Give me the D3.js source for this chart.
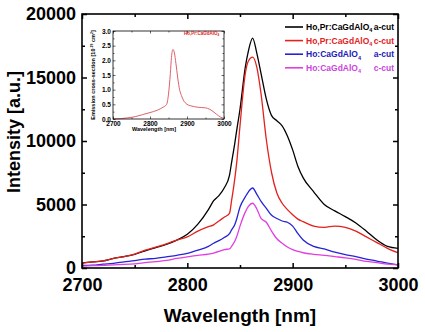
<!DOCTYPE html>
<html>
<head>
<meta charset="utf-8">
<script src="https://cdn.jsdelivr.net/npm/d3@7"></script>
<style>
  body { margin: 0; background: #fff; }
  svg { display: block; font-family: "Liberation Sans", Arial, sans-serif; font-weight: bold; }
</style>
</head>
<body>
<div id="chart"></div>
<script>
"use strict";

// wavelength grid shared by the four spectra (nm)
const wavelengths = [2700, 2710, 2720, 2730, 2740, 2750, 2760, 2770, 2780, 2790, 2800, 2810, 2820, 2825,
    2830, 2835, 2840, 2842, 2845, 2847, 2850, 2855, 2858, 2862, 2866, 2870, 2875, 2880, 2885, 2890, 2895, 2900,
    2905, 2910, 2920, 2930, 2940, 2950, 2960, 2970, 2980, 2990, 3000];

// intensities [a.u.]
const hoPrACut = [400, 480, 560, 760, 900, 1080, 1350, 1600, 1850, 2200, 2650, 3450, 4600, 5300,
    5700, 6300, 7300, 8300, 9800, 10900, 12500, 15800, 17100, 18100, 16900, 15300, 13300, 12000, 11600, 11200, 10400, 9300,
    8000, 7100, 6000, 5000, 4500, 4050, 3550, 2900, 2200, 1700, 1550];
const hoPrCCut = [380, 480, 560, 760, 900, 1100, 1400, 1650, 1900, 2200, 2450, 2900, 3250, 3400,
    3700, 4000, 4300, 5300, 7000, 8400, 11200, 15300, 16300, 16600, 15800, 13700, 10100, 7500, 5900, 5100, 4600, 4200,
    3850, 3650, 3300, 3200, 3300, 3200, 2900, 2450, 2000, 1550, 1200];
const hoACut = [200, 220, 300, 370, 480, 580, 700, 760, 880, 1000, 1150, 1400, 1700, 1950,
    2150, 2400, 2700, 3000, 3400, 3900, 4800, 5600, 6000, 6300, 5800, 5250, 4700, 4150, 3900, 3700, 3600, 3300,
    2700, 2200, 1700, 1500, 1250, 1050, 900, 700, 550, 380, 250];
const hoCCut = [150, 180, 200, 250, 280, 330, 420, 500, 600, 750, 880, 1000, 1100, 1180,
    1300, 1450, 1500, 1700, 2100, 2500, 3300, 4400, 4850, 5100, 4650, 3900, 3600, 2900, 2300, 1950, 1650, 1450,
    1300, 1200, 1080, 1000, 900, 800, 680, 520, 420, 300, 250];

const seriesValues = [hoPrACut, hoPrCCut, hoACut, hoCCut];
const seriesNames = ["Ho,Pr:CaGdAlO", "Ho,Pr:CaGdAlO", "Ho:CaGdAlO", "Ho:CaGdAlO"];
const seriesCuts = ["a-cut", "c-cut", "a-cut", "c-cut"];
const lineColors = ["#000000", "#e3211d", "#2424d6", "#e03ee0"];
const textColors = ["#000000", "#e3211d", "#2020b8", "#cc44dd"];

// inset: emission cross-section of Ho,Pr:CaGdAlO4 [1e-19 cm2]
const insetWavelengths = [2700, 2720, 2740, 2760, 2780, 2800, 2820, 2835, 2845, 2850, 2855, 2858, 2862,
    2866, 2870, 2875, 2880, 2885, 2890, 2900, 2910, 2920, 2930, 2940, 2950, 2960, 2970, 2980, 2990, 3000];
const insetValues = [0.0, 0.01, 0.04, 0.08, 0.15, 0.22, 0.3, 0.4, 0.5, 0.85, 1.55, 2.1, 2.37,
    2.25, 1.9, 1.4, 1.0, 0.8, 0.65, 0.5, 0.45, 0.42, 0.4, 0.39, 0.38, 0.34, 0.26, 0.16, 0.07, 0.02];

// tick values
const xTicks = [2700, 2800, 2900, 3000],
    xMinor = [2750, 2850, 2950],
    yTicks = [0, 5000, 10000, 15000, 20000],
    yMinor = [2500, 7500, 12500, 17500],
    insetYTicks = [0, 0.5, 1.0, 1.5, 2.0, 2.5, 3.0];

const svgWidth = 425,
    svgHeight = 332;

const margin = { top: 14, right: 27, bottom: 64, left: 82 },
    width = svgWidth - margin.left - margin.right,
    height = svgHeight - margin.top - margin.bottom;

const svg = d3.select("#chart").append("svg")
    .attr("width", svgWidth)
    .attr("height", svgHeight);

const plot = svg.append("g")
    .attr("transform", `translate(${margin.left},${margin.top})`);

const x = d3.scaleLinear().domain([2700, 3000]).range([0, width]);
const y = d3.scaleLinear().domain([0, 20000]).range([height, 0]);

// inward ticks on all four sides
function drawAxes(g, xs, ys, w, h, opt) {
    g.append("g").attr("transform", `translate(0,${h})`)
        .call(d3.axisBottom(xs).tickValues(opt.xTicks).tickSize(-opt.major).tickPadding(opt.xPad).tickFormat(opt.xFormat))
        .call(a => a.selectAll("text").style("font-size", opt.font + "px"));
    g.append("g").attr("transform", `translate(0,${h})`)
        .call(d3.axisBottom(xs).tickValues(opt.xMinor).tickSize(-opt.minor).tickFormat(""));
    g.append("g")
        .call(d3.axisTop(xs).tickValues(opt.xTicks).tickSize(-opt.major).tickFormat(""));
    g.append("g")
        .call(d3.axisTop(xs).tickValues(opt.xMinor).tickSize(-opt.minor).tickFormat(""));
    g.append("g")
        .call(d3.axisLeft(ys).tickValues(opt.yTicks).tickSize(-opt.major).tickPadding(opt.yPad).tickFormat(opt.yFormat))
        .call(a => a.selectAll("text").style("font-size", opt.font + "px"));
    g.append("g")
        .call(d3.axisLeft(ys).tickValues(opt.yMinor).tickSize(-opt.minor).tickFormat(""));
    g.append("g").attr("transform", `translate(${w},0)`)
        .call(d3.axisRight(ys).tickValues(opt.yTicks).tickSize(-opt.major).tickFormat(""));
    g.append("g").attr("transform", `translate(${w},0)`)
        .call(d3.axisRight(ys).tickValues(opt.yMinor).tickSize(-opt.minor).tickFormat(""));

    g.selectAll(".domain").remove();
    g.selectAll(".tick line").attr("stroke", "#000").attr("stroke-width", opt.tickWidth);
    g.selectAll(".tick text").attr("fill", "#000").style("font-family", "inherit").style("font-weight", "bold");

    g.append("rect")
        .attr("width", w).attr("height", h)
        .attr("fill", "none").attr("stroke", "#000").attr("stroke-width", opt.frameWidth);
}

// spectra
const line = d3.line()
    .x((d, i) => x(wavelengths[i]))
    .y(d => y(d))
    .curve(d3.curveMonotoneX);

plot.append("g")
    .selectAll("path")
    .data(seriesValues)
    .enter()
    .append("path")
    .attr("d", line)
    .attr("fill", "none")
    .attr("stroke", (d, i) => lineColors[i])
    .attr("stroke-width", 1.3)
    .attr("stroke-linejoin", "round");

drawAxes(plot, x, y, width, height, {
    xTicks: xTicks, xMinor: xMinor, yTicks: yTicks, yMinor: yMinor,
    major: 5, minor: 3, xPad: 10, yPad: 6, font: 18,
    xFormat: d3.format("d"), yFormat: d3.format("d"),
    tickWidth: 1.5, frameWidth: 1.6
});

// axis titles
svg.append("text")
    .attr("x", margin.left + width / 2)
    .attr("y", 322)
    .attr("text-anchor", "middle")
    .style("font-size", "19px")
    .text("Wavelength [nm]");

svg.append("text")
    .attr("transform", "translate(20,132) rotate(-90)")
    .attr("text-anchor", "middle")
    .style("font-size", "18px")
    .text("Intensity [a.u.]");

// legend
const legend = svg.append("g")
    .selectAll("g")
    .data(seriesNames)
    .enter()
    .append("g")
    .attr("transform", (d, i) => `translate(285,${27 + i * 13.6})`);

legend.append("line")
    .attr("x1", 0).attr("x2", 18)
    .attr("stroke", (d, i) => lineColors[i])
    .attr("stroke-width", 1.6);

const legendText = legend.append("text")
    .attr("x", 21)
    .attr("dy", "0.35em")
    .attr("fill", (d, i) => textColors[i])
    .style("font-size", "8.5px");
legendText.append("tspan").text(d => d);
legendText.append("tspan").attr("dy", 2.5).style("font-size", "5.5px").text("4");

legend.append("text")
    .attr("x", 109)
    .attr("dy", "0.35em")
    .attr("text-anchor", "end")
    .attr("fill", (d, i) => textColors[i])
    .style("font-size", "8.5px")
    .text((d, i) => seriesCuts[i]);

// inset
const inset = { left: 113, top: 31, width: 111, height: 88 };
const insetG = svg.append("g")
    .attr("transform", `translate(${inset.left},${inset.top})`);

insetG.append("rect")
    .attr("width", inset.width).attr("height", inset.height)
    .attr("fill", "#fff");

const ix = d3.scaleLinear().domain([2700, 3000]).range([0, inset.width]);
const iy = d3.scaleLinear().domain([0, 3]).range([inset.height, 0]);

insetG.append("path")
    .datum(insetValues)
    .attr("d", d3.line().x((d, i) => ix(insetWavelengths[i])).y(d => iy(d)).curve(d3.curveMonotoneX))
    .attr("fill", "none")
    .attr("stroke", "#e0606a")
    .attr("stroke-width", 1);

drawAxes(insetG, ix, iy, inset.width, inset.height, {
    xTicks: xTicks, xMinor: xMinor, yTicks: insetYTicks, yMinor: [0.25, 0.75, 1.25, 1.75, 2.25, 2.75],
    major: 2.5, minor: 1.5, xPad: 2, yPad: 2, font: 6.5,
    xFormat: d3.format("d"), yFormat: d3.format(".1f"),
    tickWidth: 0.6, frameWidth: 0.8
});

insetG.append("text")
    .attr("x", 41)
    .attr("y", 99.5)
    .attr("text-anchor", "middle")
    .style("font-size", "5.5px")
    .text("Wavelength [nm]");

const insetYTitle = insetG.append("text")
    .attr("transform", `translate(-18,${inset.height / 2}) rotate(-90)`)
    .attr("text-anchor", "middle")
    .style("font-size", "5.5px");
insetYTitle.append("tspan").text("Emission cross-section [10");
insetYTitle.append("tspan").attr("dy", -2).style("font-size", "3.5px").text("-19");
insetYTitle.append("tspan").attr("dy", 2).text(" cm");
insetYTitle.append("tspan").attr("dy", -2).style("font-size", "3.5px").text("2");
insetYTitle.append("tspan").attr("dy", 2).text("]");

const insetLabel = insetG.append("text")
    .attr("x", 71)
    .attr("y", 4)
    .attr("fill", "#e3211d")
    .style("font-size", "4.5px");
insetLabel.append("tspan").text("Ho,Pr:CaGdAlO");
insetLabel.append("tspan").attr("dy", 1.2).style("font-size", "3px").text("4");
</script>
</body>
</html>
